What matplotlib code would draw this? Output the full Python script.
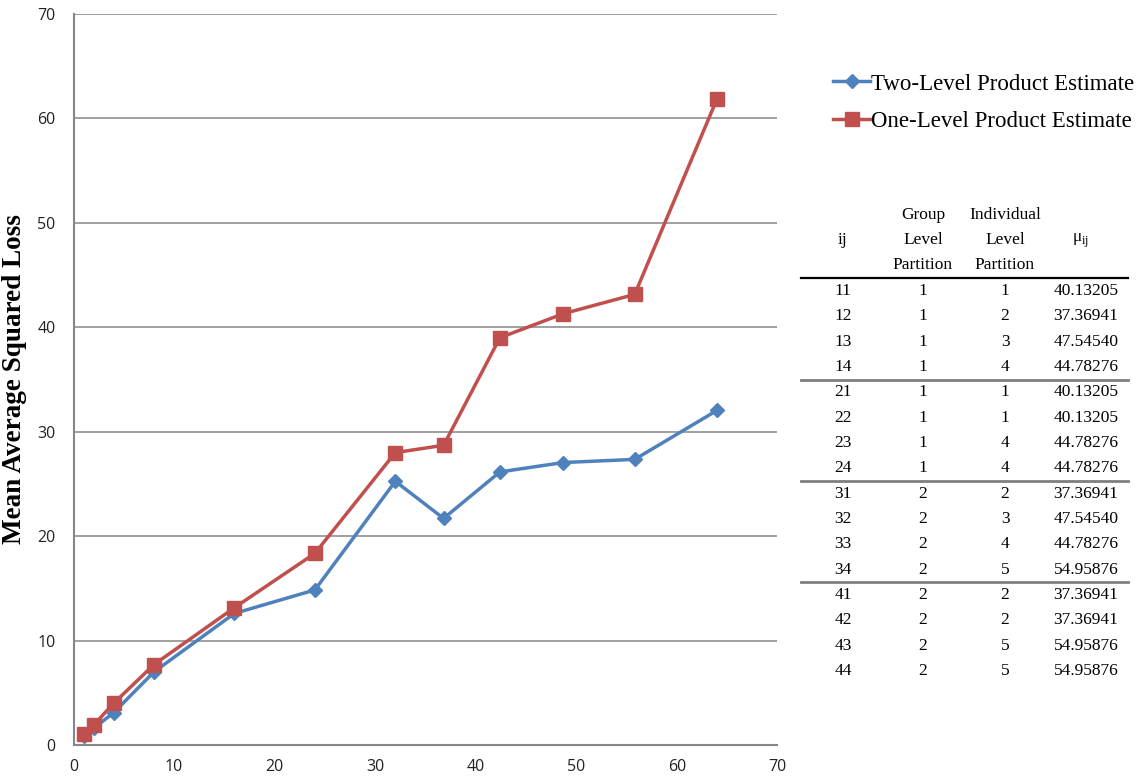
import matplotlib
matplotlib.use('Agg')
import matplotlib.pyplot as plt
from matplotlib.lines import Line2D

plt.rcParams['mathtext.fontset'] = 'custom'
plt.rcParams['mathtext.rm'] = 'Liberation Serif'

# 損失曲線資料
sizes_two = [1, 2, 4, 8, 16, 24, 32, 36.8, 42.4, 48.7, 55.8, 64]
loss_two = [0.9, 1.6, 3.1, 7.0, 12.6, 14.85, 25.25, 21.7, 26.15, 27.05, 27.35, 32.05]
sizes_one = [1, 2, 4, 8, 16, 24, 32, 36.8, 42.4, 48.7, 55.8, 64]
loss_one = [1.1, 1.9, 4.0, 7.7, 13.15, 18.35, 28.0, 28.7, 39.0, 41.3, 43.15, 61.9]

# 分割表資料
ij_labels = ['11', '12', '13', '14', '21', '22', '23', '24',
             '31', '32', '33', '34', '41', '42', '43', '44']
group_part = [1, 1, 1, 1, 1, 1, 1, 1, 2, 2, 2, 2, 2, 2, 2, 2]
indiv_part = [1, 2, 3, 4, 1, 1, 4, 4, 2, 3, 4, 5, 2, 2, 5, 5]
mu_vals = [40.13205, 37.36941, 47.54540, 44.78276, 40.13205, 40.13205, 44.78276, 44.78276,
           37.36941, 47.54540, 44.78276, 54.95876, 37.36941, 37.36941, 54.95876, 54.95876]

W, H = 1144, 778
BLUE = '#4F81BD'
RED = '#C0504D'
GRID = '#868686'

fig = plt.figure(figsize=(W / 100, H / 100), dpi=100)

def fx(px):
    return px / W

def fy(py):
    return 1 - py / H

# 主圖
ax = fig.add_axes([fx(73.5), fy(745), fx(777.5) - fx(73.5), fy(14) - fy(745)])
ax.plot(sizes_two, loss_two, color=BLUE, lw=2.5, marker='D', ms=7.5,
        label='Two-Level Product Estimate', zorder=3)
ax.plot(sizes_one, loss_one, color=RED, lw=2.5, marker='s', ms=10,
        label='One-Level Product Estimate', zorder=3)
ax.set_xlim(0, 70)
ax.set_ylim(0, 70)
ax.set_xticks(range(0, 71, 10))
ax.set_yticks(range(0, 71, 10))
ax.grid(axis='y', color=GRID, lw=1.1)
ax.set_axisbelow(True)
for s in ['top', 'right']:
    ax.spines[s].set_visible(False)
for s in ['left', 'bottom']:
    ax.spines[s].set_color(GRID)
    ax.spines[s].set_linewidth(1.5)
ax.tick_params(length=0, labelsize=11.5, labelcolor='#222222')
ax.tick_params(axis='x', pad=10)
ax.tick_params(axis='y', pad=13)
for lab in ax.get_xticklabels() + ax.get_yticklabels():
    lab.set_family('Open Sans')
ax.set_ylabel('Mean Average Squared Loss', family='Liberation Serif',
              fontweight='bold', fontsize=19.5)
ax.yaxis.set_label_coords((27 - 73.5) / 704, 0.5)

fig.legend(loc='upper left', bbox_to_anchor=(fx(822), fy(62)), frameon=False,
           prop={'family': 'Liberation Serif', 'size': 16.5},
           handlelength=1.6, handletextpad=0.05, labelspacing=0.72, borderpad=0)

# 分割表
tfont = dict(family='Liberation Serif', fontsize=12.5, ha='center', va='center')
col_x = [843, 923, 1005, 1086]
fig.text(fx(col_x[0]), fy(240), 'ij', **tfont)
for j, word in enumerate(['Group', 'Level', 'Partition']):
    fig.text(fx(col_x[1]), fy(215 + 25 * j), word, **tfont)
for j, word in enumerate(['Individual', 'Level', 'Partition']):
    fig.text(fx(col_x[2]), fy(215 + 25 * j), word, **tfont)
fig.text(fx(1081), fy(241), r'μ$_{\mathrm{ij}}$', **tfont)

row_y0, row_dy = 291, 25.33
for i in range(len(ij_labels)):
    y = fy(row_y0 + row_dy * i)
    fig.text(fx(col_x[0]), y, ij_labels[i], **tfont)
    fig.text(fx(col_x[1]), y, str(group_part[i]), **tfont)
    fig.text(fx(col_x[2]), y, str(indiv_part[i]), **tfont)
    fig.text(fx(col_x[3]), y, f'{mu_vals[i]:.5f}', **tfont)

fig.add_artist(Line2D([fx(801), fx(1128)], [fy(277.5), fy(277.5)], color='black', lw=1.6))
for k in (1, 2, 3):
    yl = row_y0 + row_dy * (4 * k - 0.5)
    fig.add_artist(Line2D([fx(801), fx(1128)], [fy(yl), fy(yl)], color='#7f7f7f', lw=2))

fig.savefig('out.png', dpi=100)
